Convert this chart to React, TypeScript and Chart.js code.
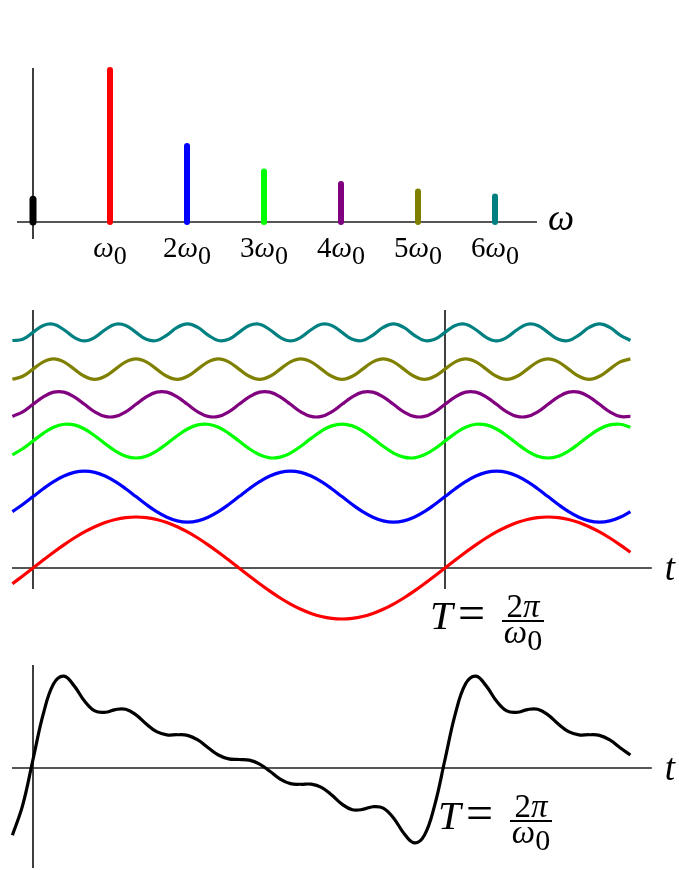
import React, { useEffect, useRef } from "react";
import { Chart, registerables } from "chart.js";

Chart.register(...registerables);

// ---------------- DATA ----------------
// Spectrum (top panel): harmonic number -> amplitude
const spectrumHarmonics = [0, 1, 2, 3, 4, 5, 6];
const spectrumAmplitudes = [0.15, 1, 0.5, 0.333, 0.25, 0.2, 0.167];
const spectrumTickLabels = ["ω_0", "2ω_0", "3ω_0", "4ω_0", "5ω_0", "6ω_0"];
const spectrumAxisLabel = "ω";

// Time samples (in units of the period T)
const times = [
  -0.05, -0.025, 0, 0.025, 0.05, 0.075, 0.1, 0.125, 0.15, 0.175, 0.2, 0.225,
  0.25, 0.275, 0.3, 0.325, 0.35, 0.375, 0.4, 0.425, 0.45, 0.475, 0.5, 0.525,
  0.55, 0.575, 0.6, 0.625, 0.65, 0.675, 0.7, 0.725, 0.75, 0.775, 0.8, 0.825,
  0.85, 0.875, 0.9, 0.925, 0.95, 0.975, 1, 1.025, 1.05, 1.075, 1.1, 1.125,
  1.15, 1.175, 1.2, 1.225, 1.25, 1.275, 1.3, 1.325, 1.35, 1.375, 1.4, 1.425,
  1.45,
];

const harmonic1 = [
  -0.309, -0.156,
  0, 0.156, 0.309, 0.454, 0.588, 0.707, 0.809, 0.891, 0.951, 0.988,
  1, 0.988, 0.951, 0.891, 0.809, 0.707, 0.588, 0.454, 0.309, 0.156,
  0, -0.156, -0.309, -0.454, -0.588, -0.707, -0.809, -0.891, -0.951, -0.988,
  -1, -0.988, -0.951, -0.891, -0.809, -0.707, -0.588, -0.454, -0.309, -0.156,
  0, 0.156, 0.309, 0.454, 0.588, 0.707, 0.809, 0.891, 0.951, 0.988,
  1, 0.988, 0.951, 0.891, 0.809, 0.707, 0.588, 0.454, 0.309,
];
const harmonic2 = [
  -0.294, -0.155,
  0, 0.155, 0.294, 0.405, 0.476, 0.5, 0.476, 0.405, 0.294, 0.155,
  0, -0.155, -0.294, -0.405, -0.476, -0.5, -0.476, -0.405, -0.294, -0.155,
  0, 0.155, 0.294, 0.405, 0.476, 0.5, 0.476, 0.405, 0.294, 0.155,
  0, -0.155, -0.294, -0.405, -0.476, -0.5, -0.476, -0.405, -0.294, -0.155,
  0, 0.155, 0.294, 0.405, 0.476, 0.5, 0.476, 0.405, 0.294, 0.155,
  0, -0.155, -0.294, -0.405, -0.476, -0.5, -0.476, -0.405, -0.294,
];
const harmonic3 = [
  -0.27, -0.151,
  0, 0.151, 0.27, 0.329, 0.317, 0.236, 0.103, -0.052, -0.196, -0.297,
  -0.333, -0.297, -0.196, -0.052, 0.103, 0.236, 0.317, 0.329, 0.27, 0.151,
  0, -0.151, -0.27, -0.329, -0.317, -0.236, -0.103, 0.052, 0.196, 0.297,
  0.333, 0.297, 0.196, 0.052, -0.103, -0.236, -0.317, -0.329, -0.27, -0.151,
  0, 0.151, 0.27, 0.329, 0.317, 0.236, 0.103, -0.052, -0.196, -0.297,
  -0.333, -0.297, -0.196, -0.052, 0.103, 0.236, 0.317, 0.329, 0.27,
];
const harmonic4 = [
  -0.238, -0.147,
  0, 0.147, 0.238, 0.238, 0.147, 0, -0.147, -0.238, -0.238, -0.147,
  0, 0.147, 0.238, 0.238, 0.147, 0, -0.147, -0.238, -0.238, -0.147,
  0, 0.147, 0.238, 0.238, 0.147, 0, -0.147, -0.238, -0.238, -0.147,
  0, 0.147, 0.238, 0.238, 0.147, 0, -0.147, -0.238, -0.238, -0.147,
  0, 0.147, 0.238, 0.238, 0.147, 0, -0.147, -0.238, -0.238, -0.147,
  0, 0.147, 0.238, 0.238, 0.147, 0, -0.147, -0.238, -0.238,
];
const harmonic5 = [
  -0.2, -0.141,
  0, 0.141, 0.2, 0.141, 0, -0.141, -0.2, -0.141,
  0, 0.141, 0.2, 0.141, 0, -0.141, -0.2, -0.141,
  0, 0.141, 0.2, 0.141, 0, -0.141, -0.2, -0.141,
  0, 0.141, 0.2, 0.141, 0, -0.141, -0.2, -0.141,
  0, 0.141, 0.2, 0.141, 0, -0.141, -0.2, -0.141,
  0, 0.141, 0.2, 0.141, 0, -0.141, -0.2, -0.141,
  0, 0.141, 0.2, 0.141, 0, -0.141, -0.2, -0.141,
  0, 0.141, 0.2,
];
const harmonic6 = [
  -0.159, -0.135,
  0, 0.135, 0.159, 0.052, -0.098, -0.167, -0.098, 0.052, 0.159, 0.135,
  0, -0.135, -0.159, -0.052, 0.098, 0.167, 0.098, -0.052, -0.159, -0.135,
  0, 0.135, 0.159, 0.052, -0.098, -0.167, -0.098, 0.052, 0.159, 0.135,
  0, -0.135, -0.159, -0.052, 0.098, 0.167, 0.098, -0.052, -0.159, -0.135,
  0, 0.135, 0.159, 0.052, -0.098, -0.167, -0.098, 0.052, 0.159, 0.135,
  0, -0.135, -0.159, -0.052, 0.098, 0.167, 0.098, -0.052, -0.159,
];
// vertical shift of each harmonic in the middle panel (red at 0)
const harmonicOffsets = [0, 1.4, 2.49, 3.21, 3.9, 4.62];

// Sum of the harmonics plus the DC term (bottom panel)
const sumSignal = [
  -1.305, -0.72,
  0.165, 1.05, 1.635, 1.784, 1.595, 1.3, 1.108, 1.082, 1.135, 1.14,
  1.032, 0.854, 0.705, 0.644, 0.646, 0.634, 0.545, 0.394, 0.253, 0.176,
  0.165, 0.154, 0.077, -0.064, -0.215, -0.304, -0.316, -0.314, -0.375, -0.524,
  -0.702, -0.81, -0.805, -0.752, -0.778, -0.97, -1.265, -1.454, -1.305, -0.72,
  0.165, 1.05, 1.635, 1.784, 1.595, 1.3, 1.108, 1.082, 1.135, 1.14,
  1.032, 0.854, 0.705, 0.644, 0.646, 0.634, 0.545, 0.394, 0.253,
];

const harmonicSeries = [harmonic1, harmonic2, harmonic3, harmonic4, harmonic5, harmonic6];
const periodLabel = { lhs: "T", num: "2π", den: "ω_0" };
const timeAxisLabel = "t";

// ---------------- STYLE / LAYOUT ----------------
const W = 679;
const COLORS = ["#000000", "#ff0000", "#0000ff", "#00ff00", "#800080", "#808000", "#008080"];
const SERIF = '"Liberation Serif", "DejaVu Serif", serif';
const AXIS_COLOR = "#1e1e1e";

type Run = { text: string; size: number; italic?: boolean; dy?: number };

function fontOf(r: Run) {
  return `${r.italic ? "italic " : ""}${r.size}px ${SERIF}`;
}

function mathRuns(label: string, size: number, subSize: number, subDy: number): Run[] {
  const [main, sub] = label.split("_");
  const runs: Run[] = [];
  for (const ch of main) runs.push({ text: ch, size, italic: /[A-Za-zωπ]/.test(ch) });
  if (sub) runs.push({ text: sub, size: subSize, dy: subDy });
  return runs;
}

function drawRuns(ctx: CanvasRenderingContext2D, x: number, y: number, runs: Run[], align: "left" | "center") {
  const widths = runs.map((r) => {
    ctx.font = fontOf(r);
    return ctx.measureText(r.text).width;
  });
  const total = widths.reduce((a, b) => a + b, 0);
  let cx = align === "center" ? x - total / 2 : x;
  ctx.textAlign = "left";
  ctx.textBaseline = "alphabetic";
  runs.forEach((r, i) => {
    ctx.font = fontOf(r);
    ctx.fillText(r.text, cx, y + (r.dy || 0));
    cx += widths[i];
  });
}

function line(ctx: CanvasRenderingContext2D, x1: number, y1: number, x2: number, y2: number, w = 1.7, color = AXIS_COLOR) {
  ctx.save();
  ctx.strokeStyle = color;
  ctx.lineWidth = w;
  ctx.beginPath();
  ctx.moveTo(x1, y1);
  ctx.lineTo(x2, y2);
  ctx.stroke();
  ctx.restore();
}

function drawPeriodLabel(ctx: CanvasRenderingContext2D, left: number, axisY: number) {
  ctx.save();
  ctx.fillStyle = "#000";
  drawRuns(ctx, left, axisY + 61, [{ text: periodLabel.lhs, size: 41, italic: true }], "left");
  drawRuns(ctx, left + 28, axisY + 61, [{ text: "=", size: 48 }], "left");
  const cx = left + 93;
  drawRuns(ctx, cx, axisY + 49, mathRuns(periodLabel.num, 33, 28, 0), "center");
  line(ctx, cx - 21, axisY + 53, cx + 21, axisY + 53, 1.8, "#000");
  drawRuns(ctx, cx, axisY + 75, mathRuns(periodLabel.den, 33, 30, 7), "center");
  ctx.restore();
}

function scaleRange(originPx: number, pxPerUnit: number, size: number) {
  return { min: -originPx / pxPerUnit, max: (size - originPx) / pxPerUnit };
}

function baseOptions(x: { min: number; max: number }, yMin: number, yMax: number) {
  return {
    responsive: false,
    animation: false as const,
    events: [] as any[],
    layout: { padding: 0 },
    plugins: { legend: { display: false }, tooltip: { enabled: false }, title: { display: false } },
    scales: {
      x: { type: "linear" as const, min: x.min, max: x.max, display: false },
      y: { type: "linear" as const, min: yMin, max: yMax, display: false },
    },
  };
}

// ---------- top: spectrum ----------
function makeTop(canvas: HTMLCanvasElement) {
  const H = 290, originX = 33, stepPx = 77, axisY = 222, unitPx = 152;
  const xr = scaleRange(originX, stepPx, W);
  const datasets = spectrumHarmonics.map((h, i) => ({
    data: [{ x: h, y: 0 }, { x: h, y: spectrumAmplitudes[i] }],
    borderColor: COLORS[i],
    borderWidth: i === 0 ? 7 : 6,
    borderCapStyle: "round" as const,
    pointRadius: 0,
    tension: 0,
    clip: false as const,
  }));
  const plugin = {
    id: "topAxes",
    beforeDatasetsDraw(chart: any) {
      const { ctx, scales } = chart;
      const xs = scales.x, ys = scales.y;
      const y0 = ys.getPixelForValue(0);
      line(ctx, xs.getPixelForValue(-0.208), y0, xs.getPixelForValue(6.545), y0);
      const x0 = xs.getPixelForValue(0);
      line(ctx, x0, ys.getPixelForValue(1.013), x0, ys.getPixelForValue(-0.112));
    },
    afterDraw(chart: any) {
      const { ctx, scales } = chart;
      const xs = scales.x, ys = scales.y;
      const y0 = ys.getPixelForValue(0);
      ctx.save();
      ctx.fillStyle = "#000";
      spectrumTickLabels.forEach((lab, i) => {
        const x = xs.getPixelForValue(spectrumHarmonics[i + 1]);
        drawRuns(ctx, x, y0 + 35, mathRuns(lab, 29, 26, 7), "center");
      });
      drawRuns(ctx, xs.getPixelForValue(6.545) + 11, y0 + 8, [{ text: spectrumAxisLabel, size: 37, italic: true }], "left");
      ctx.restore();
    },
  };
  return new Chart(canvas, {
    type: "line",
    data: { datasets },
    options: baseOptions(xr, (axisY - H) / unitPx, axisY / unitPx) as any,
    plugins: [plugin],
  });
}

// ---------- middle: harmonics ----------
function makeMid(canvas: HTMLCanvasElement) {
  const H = 375, originX = 33, periodPx = 412, axisY = 278, unitPx = 51;
  const xr = scaleRange(originX, periodPx, W);
  const datasets = harmonicSeries.map((vals, i) => ({
    data: times.map((t, k) => ({ x: t, y: vals[k] + harmonicOffsets[i] })),
    borderColor: COLORS[i + 1],
    borderWidth: 3.2,
    pointRadius: 0,
    tension: 0.4,
    clip: false as const,
  }));
  const plugin = {
    id: "midAxes",
    beforeDatasetsDraw(chart: any) {
      const { ctx, scales } = chart;
      const xs = scales.x, ys = scales.y;
      const y0 = ys.getPixelForValue(0);
      line(ctx, xs.getPixelForValue(-0.051), y0, xs.getPixelForValue(1.502), y0);
      [0, 1].forEach((t) => {
        const x = xs.getPixelForValue(t);
        line(ctx, x, ys.getPixelForValue(5.059), x, ys.getPixelForValue(-0.412));
      });
    },
    afterDraw(chart: any) {
      const { ctx, scales } = chart;
      const xs = scales.x, ys = scales.y;
      const y0 = ys.getPixelForValue(0);
      ctx.save();
      ctx.fillStyle = "#000";
      drawRuns(ctx, xs.getPixelForValue(1.502) + 13, y0 + 12, [{ text: timeAxisLabel, size: 37, italic: true }], "left");
      drawPeriodLabel(ctx, xs.getPixelForValue(1) - 15, y0);
      ctx.restore();
    },
  };
  return new Chart(canvas, {
    type: "line",
    data: { datasets },
    options: baseOptions(xr, (axisY - H) / unitPx, axisY / unitPx) as any,
    plugins: [plugin],
  });
}

// ---------- bottom: sum ----------
function makeBot(canvas: HTMLCanvasElement) {
  const H = 205, originX = 33, periodPx = 412, axisY = 103, unitPx = 51.5;
  const xr = scaleRange(originX, periodPx, W);
  const datasets = [
    {
      data: times.map((t, k) => ({ x: t, y: sumSignal[k] })),
      borderColor: COLORS[0],
      borderWidth: 3.2,
      pointRadius: 0,
      tension: 0.4,
      clip: false as const,
    },
  ];
  const plugin = {
    id: "botAxes",
    beforeDatasetsDraw(chart: any) {
      const { ctx, scales } = chart;
      const xs = scales.x, ys = scales.y;
      const y0 = ys.getPixelForValue(0);
      line(ctx, xs.getPixelForValue(-0.051), y0, xs.getPixelForValue(1.502), y0);
      const x = xs.getPixelForValue(0);
      line(ctx, x, ys.getPixelForValue(2.0), x, ys.getPixelForValue(-1.94));
    },
    afterDraw(chart: any) {
      const { ctx, scales } = chart;
      const xs = scales.x, ys = scales.y;
      const y0 = ys.getPixelForValue(0);
      ctx.save();
      ctx.fillStyle = "#000";
      drawRuns(ctx, xs.getPixelForValue(1.502) + 13, y0 + 12, [{ text: timeAxisLabel, size: 37, italic: true }], "left");
      drawPeriodLabel(ctx, xs.getPixelForValue(1) - 7, y0);
      ctx.restore();
    },
  };
  return new Chart(canvas, {
    type: "line",
    data: { datasets },
    options: baseOptions(xr, (axisY - H) / unitPx, axisY / unitPx) as any,
    plugins: [plugin],
  });
}

export default function App() {
  const topRef = useRef<HTMLCanvasElement>(null);
  const midRef = useRef<HTMLCanvasElement>(null);
  const botRef = useRef<HTMLCanvasElement>(null);

  useEffect(() => {
    const charts = [makeTop(topRef.current!), makeMid(midRef.current!), makeBot(botRef.current!)];
    return () => charts.forEach((c) => c.destroy());
  }, []);

  const cs = (top: number): React.CSSProperties => ({ position: "absolute", left: 0, top, display: "block" });
  return (
    <div style={{ position: "fixed", left: 0, top: 0, width: W, height: 870, background: "#fff", overflow: "hidden" }}>
      <canvas ref={topRef} width={W} height={290} style={cs(0)} />
      <canvas ref={midRef} width={W} height={375} style={cs(290)} />
      <canvas ref={botRef} width={W} height={205} style={cs(665)} />
    </div>
  );
}
